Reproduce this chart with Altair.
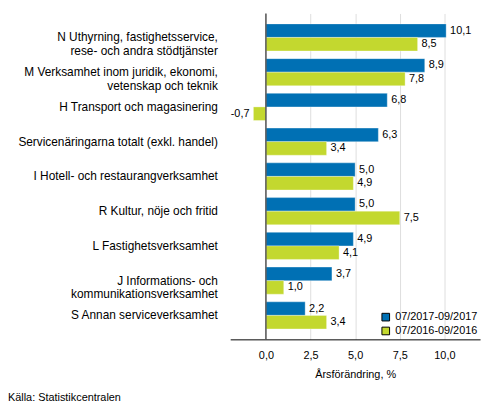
import pandas as pd
import altair as alt

categories = [
    "N Uthyrning, fastighetsservice,|rese- och andra stödtjänster",
    "M Verksamhet inom juridik, ekonomi,|vetenskap och teknik",
    "H Transport och magasinering",
    "Servicenäringarna totalt (exkl. handel)",
    "I Hotell- och restaurangverksamhet",
    "R Kultur, nöje och fritid",
    "L Fastighetsverksamhet",
    "J Informations- och |kommunikationsverksamhet",
    "S Annan serviceverksamhet",
]
series = ["07/2017-09/2017", "07/2016-09/2016"]
values_2017 = [10.1, 8.9, 6.8, 6.3, 5.0, 5.0, 4.9, 3.7, 2.2]
values_2016 = [8.5, 7.8, -0.7, 3.4, 4.9, 7.5, 4.1, 1.0, 3.4]
colors = ["#0070b4", "#c3d82f"]

rows = []
for c, a, b in zip(categories, values_2017, values_2016):
    rows.append({"cat": c, "serie": series[0], "value": a})
    rows.append({"cat": c, "serie": series[1], "value": b})
df = pd.DataFrame(rows)
df["label"] = df["value"].map(lambda v: f"{v:.1f}".replace(".", ","))

font = "Liberation Sans"

y = alt.Y("cat:N", sort=categories, title=None).scale(
    paddingInner=0.22, paddingOuter=0.3
).axis(
    domain=False, ticks=False, labelPadding=13, labelFontSize=12,
    labelColor="#000", labelFont=font, labelLineHeight=14, labelLimit=400,
    labelExpr="split(datum.label, '|')", minExtent=225, maxExtent=225,
)
yoff = alt.YOffset("serie:N", sort=series)
x = alt.X("value:Q", title="Årsförändring, %").scale(domain=[-2, 12], nice=False).axis(
    values=[0, 2.5, 5, 7.5, 10], labelExpr="replace(format(datum.value, '.1f'), '.', ',')",
    ticks=False, domain=True, domainColor="#000", gridColor="#dddddd",
    labelFontSize=11, labelColor="#000", labelFont=font, labelPadding=10,
    titleFontSize=11, titleFontWeight="normal", titleColor="#000", titleFont=font,
    titlePadding=9,
)

base = alt.Chart(df)

bars = base.mark_bar(stroke="#ffffff", strokeOpacity=0.4, strokeWidth=0.8).encode(
    y=y, yOffset=yoff, x=x,
    color=alt.Color("serie:N", sort=series, title=None).scale(domain=series, range=colors).legend(
        orient="none", legendX=152, legendY=302, symbolType="square", symbolSize=60,
        symbolStrokeColor="#000", symbolStrokeWidth=1, labelFontSize=11, labelFont=font,
        labelColor="#000", rowPadding=1, labelOffset=4,
    ),
)

pos_text = base.transform_filter("datum.value >= 0").mark_text(
    align="left", dx=4, fontSize=11, font=font, color="#000"
).encode(y=alt.Y("cat:N", sort=categories), yOffset=yoff, x="value:Q", text="label:N")

neg_text = base.transform_filter("datum.value < 0").mark_text(
    align="right", dx=-4, fontSize=11, font=font, color="#000"
).encode(y=alt.Y("cat:N", sort=categories), yOffset=yoff, x="value:Q", text="label:N")

zero = alt.Chart(pd.DataFrame({"z": [0]})).mark_rule(color="#555555", strokeWidth=1.5).encode(
    x="z:Q"
)

chart = alt.layer(bars, zero, pos_text, neg_text).properties(
    width=253, height=330,
    padding={"left": 0, "top": 2, "right": 5, "bottom": 5},
    title=alt.TitleParams(
        "Källa: Statistikcentralen", orient="bottom", anchor="start", frame="bounds",
        fontSize=11, fontWeight="normal", font=font, color="#000", offset=12,
    ),
).configure_view(stroke=None)

chart.save("out.html", embed_options={"renderer": "svg", "actions": False})
